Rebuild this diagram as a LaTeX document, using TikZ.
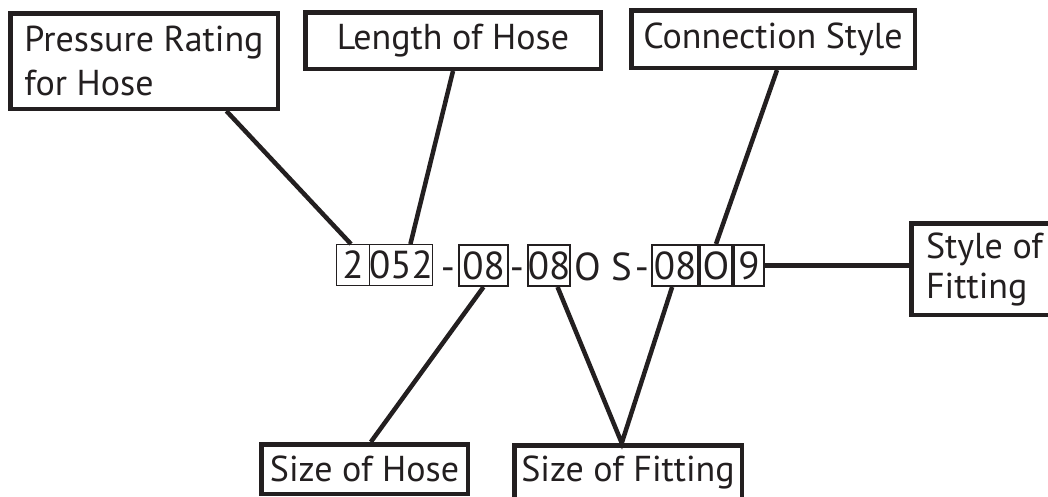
\documentclass[tikz,border=0pt]{standalone}
\usepackage{fontspec}
\setmainfont{PT Sans}
\usetikzlibrary{calc}
\definecolor{ink}{HTML}{231F20}
\begin{document}
\begin{tikzpicture}[x=1pt,y=-1pt,
  label box/.style={draw=ink, line width=4.5pt, inner sep=0pt, text=ink,
    font=\fontsize{36}{44}\selectfont},
  code box/.style={draw=ink, line width=#1, inner sep=0pt, text=ink,
    font=\fontsize{39}{46}\selectfont},
  code text/.style={inner sep=0pt, anchor=base, text=ink,
    font=\fontsize{39}{46}\selectfont},
  connector/.style={draw=ink, line width=4.5pt}]
\useasboundingbox (0,0) rectangle (1048,496);
\fill[white] (0,0) rectangle (1048,496);

% label boxes
\node[label box, minimum width=267.5pt, minimum height=95.5pt, align=left] (PR) at (144,61)
  {Pressure Rating\\for Hose};
\node[label box, minimum width=295.5pt, minimum height=56.5pt] (LH) at (453,40.5)
  {Length of Hose};
\node[label box, minimum width=283.5pt, minimum height=57.5pt] (CS) at (773,39)
  {Connection Style};
\node[label box, minimum width=146.5pt, minimum height=91.5pt,
  align=left, font=\fontsize{36}{40}\selectfont] (SF) at (984.5,269)
  {Style of\\Fitting};
\node[label box, minimum width=206.5pt, minimum height=49.5pt] (SH) at (364.5,469)
  {Size of Hose};
\node[label box, minimum width=227.5pt, minimum height=54.5pt] (SFit) at (628,472.5)
  {Size of Fitting};

% code boxes
\node[code box=1.2pt, minimum width=32.8pt, minimum height=40.8pt] (b2) at (353,265) {2};
\node[code box=1.2pt, minimum width=60.8pt, minimum height=40.8pt] (b052) at (401,265) {052};
\node[code text] (d1) at (448,280) {-};
\node[code box=2.4pt, minimum width=48.6pt, minimum height=40.6pt] (b08a) at (483.5,265.5) {08};
\node[code text] (d2) at (517,280) {-};
\node[code box=2.4pt, minimum width=41.6pt, minimum height=40.6pt] (b08b) at (549,265.5) {08};
\node[code text] (os) at (603,280) {O S};
\node[code text] (d3) at (642,280) {-};
\node[code box=2.4pt, minimum width=45.6pt, minimum height=40.6pt] (b08c) at (675,265.5) {08};
\node[code box=2pt, minimum width=32pt, minimum height=41pt] (bO) at (716,265.5) {O};
\node[code box=2pt, minimum width=30pt, minimum height=41pt] (b9) at (749,265.5) {9};

% connectors
\draw[connector] ($(PR.south west)!0.803!(PR.south east)$) -- ($(b2.north west)!0.44!(b2.north east)$);
\draw[connector] (LH.south) -- ($(b052.north west)!0.645!(b052.north east)$);
\draw[connector] ($(CS.south west)!0.514!(CS.south east)$) -- (bO.north);
\draw[connector] (b9.east) -- (b9.east -| SF.west);
\draw[connector] (b08a.south) -- ($(SH.north west)!0.53!(SH.north east)$);
\coordinate (apex) at ($(SFit.north west)!0.473!(SFit.north east)$);
\draw[connector, line join=miter] ($(b08b.south west)!0.69!(b08b.south east)$) -- (apex)
  -- ($(b08c.south west)!0.44!(b08c.south east)$);
\end{tikzpicture}
\end{document}
